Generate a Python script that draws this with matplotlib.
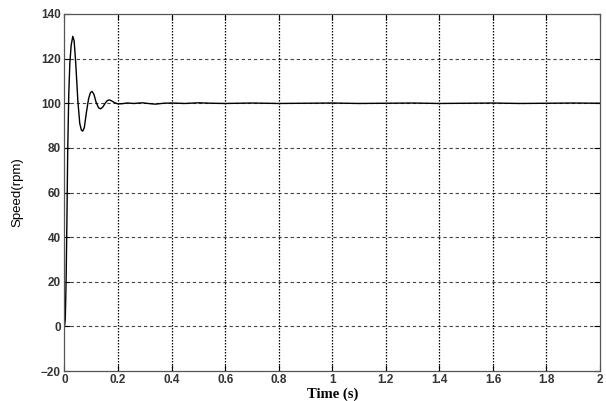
import matplotlib
matplotlib.use("Agg")
import matplotlib.pyplot as plt

# speed response (rpm)
time_s = [0.0, 0.003, 0.006, 0.009, 0.012, 0.016, 0.020, 0.025, 0.031, 0.036,
          0.042, 0.050, 0.057, 0.063, 0.068, 0.074, 0.082, 0.090, 0.097, 0.103,
          0.110, 0.118, 0.127, 0.135, 0.143, 0.152, 0.160, 0.168, 0.177, 0.188,
          0.200, 0.215, 0.235, 0.26, 0.29, 0.32, 0.34, 0.37, 0.40, 0.45, 0.50,
          0.55, 0.60, 0.70, 0.80, 0.90, 1.00, 1.10, 1.20, 1.30, 1.40, 1.50,
          1.60, 1.70, 1.80, 1.90, 2.00]
speed = [0.0, 3, 20, 46, 78, 104, 118, 126, 130, 128,
         118, 101, 91, 88, 87.5, 89, 96, 102, 104.8, 105.3,
         104, 100.5, 98, 97.5, 98.3, 100, 101.2, 101.5, 101, 100.2,
         99.7, 99.8, 100.1, 99.9, 100.2, 99.8, 99.6, 100.0, 100.1, 99.9, 100.2,
         100.0, 99.9, 100.1, 99.9, 100.0, 100.1, 99.9, 100.0, 100.1, 99.9, 100.0,
         100.1, 99.9, 100.0, 100.1, 100.0]

x_ticks = [0, 0.2, 0.4, 0.6, 0.8, 1, 1.2, 1.4, 1.6, 1.8, 2]
x_labels = ["0", "0.2", "0.4", "0.6", "0.8", "1", "1.2", "1.4", "1.6", "1.8", "2"]
y_ticks = [-20, 0, 20, 40, 60, 80, 100, 120, 140]

fig = plt.figure(figsize=(6.06, 4.01), dpi=100)
ax = fig.add_axes([0.1064, 0.0748, 0.8837, 0.8903])

ax.plot(time_s, speed, color="black", linewidth=1.0)

ax.set_xlim(0, 2)
ax.set_ylim(-20, 140)
ax.set_xticks(x_ticks)
ax.set_xticklabels(x_labels)
ax.set_yticks(y_ticks)

for lab in ax.get_xticklabels() + ax.get_yticklabels():
    lab.set_fontfamily("Liberation Sans")
    lab.set_fontweight("bold")
    lab.set_fontsize(8.5)
    lab.set_color("#333333")

ax.tick_params(direction="in", length=4, width=0.8, top=True, right=True, pad=2.5)

# matlab style grid
for yv in y_ticks[1:-1]:
    ax.axhline(yv, color="#444444", linewidth=0.8, linestyle=(0, (3, 2.5)), zorder=0)
for xv in x_ticks[1:-1]:
    ax.axvline(xv, color="black", linewidth=0.9, linestyle=(0, (1.2, 1.2)), zorder=0)

for sp in ax.spines.values():
    sp.set_color("#555555")
    sp.set_linewidth(0.9)

ax.set_xlabel("Time (s)", family="Liberation Serif", weight="bold", size=10.5, labelpad=0.5)
ax.set_ylabel("Speed(rpm)", family=["Liberation Sans Narrow", "Liberation Sans"],
              size=9.5, labelpad=13)

fig.savefig("out.png", dpi=100)
